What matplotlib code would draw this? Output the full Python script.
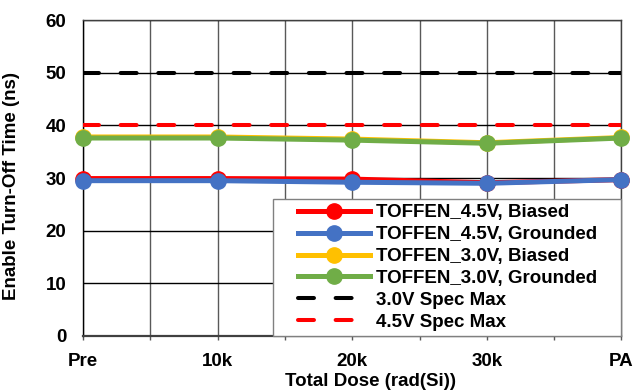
import matplotlib.pyplot as plt
from matplotlib.patches import Rectangle

plt.rcParams["font.family"] = ["Liberation Sans", "DejaVu Sans"]
plt.rcParams["font.weight"] = "bold"

doses = ["Pre", "10k", "20k", "30k", "PA"]
toffen_45_biased = [29.9, 29.9, 29.8, 29.1, 29.7]
toffen_45_grounded = [29.5, 29.5, 29.2, 29.0, 29.7]
toffen_30_biased = [37.8, 37.8, 37.4, 36.7, 37.7]
toffen_30_grounded = [37.6, 37.6, 37.2, 36.6, 37.6]
spec_max_30 = [50, 50, 50, 50, 50]
spec_max_45 = [40, 40, 40, 40, 40]

series = [
    ("TOFFEN_4.5V, Biased", toffen_45_biased, "#ff0000"),
    ("TOFFEN_4.5V, Grounded", toffen_45_grounded, "#4472c4"),
    ("TOFFEN_3.0V, Biased", toffen_30_biased, "#ffc000"),
    ("TOFFEN_3.0V, Grounded", toffen_30_grounded, "#70ad47"),
]
specs = [
    ("3.0V Spec Max", spec_max_30, "black"),
    ("4.5V Spec Max", spec_max_45, "#ff0000"),
]

FS = 13.5

fig = plt.figure(figsize=(6.35, 3.9), dpi=100)
ax = fig.add_axes([0.1307, 0.1385, 0.848, 0.810])
x = list(range(len(doses)))

for label, vals, color in series:
    ax.plot(x, vals, color=color, lw=3.6, marker="o", ms=11,
            mec=color, mfc=color, label=label, zorder=4, clip_on=False)

spec_lw = 2.9
for label, vals, color in specs:
    ln, = ax.plot(x, vals, color=color, lw=spec_lw, label=label, zorder=3)
    ln.set_dashes((11.5 / spec_lw, 15.6 / spec_lw))
    ln.set_dash_capstyle("round")

ax.set_xlim(0, 4)
ax.set_ylim(0, 60)
ax.set_xticks(x)
ax.set_xticklabels(doses)
ax.set_xticks([0.5, 1.5, 2.5, 3.5], minor=True)
ax.set_yticks(range(0, 61, 10))

ax.grid(True, which="both", axis="x", color="#595959", lw=1, zorder=0)
ax.grid(True, which="major", axis="y", color="black", lw=1, zorder=0)
ax.set_axisbelow(True)

ax.tick_params(axis="x", which="both", length=3, width=1, color="#595959",
               pad=9.5, labelsize=FS)
ax.tick_params(axis="y", length=0, pad=12, labelsize=FS)
for lab in ax.get_xticklabels() + ax.get_yticklabels():
    lab.set_fontweight("bold")

for side in ["top", "right", "left"]:
    ax.spines[side].set_color("#404040")
    ax.spines[side].set_linewidth(1)
ax.spines["left"].set_color("black")
ax.spines["bottom"].set_color("#404040")
ax.spines["bottom"].set_linewidth(1.6)

ax.set_xlabel("Total Dose (rad(Si))", fontsize=FS, fontweight="bold")
ax.xaxis.set_label_coords(0.533, -0.116)
ax.set_ylabel("Enable Turn-Off Time (ns)", fontsize=FS, fontweight="bold")
ax.yaxis.set_label_coords(-0.117, 0.475)

# legend box drawn by hand so the padding matches the original
box = Rectangle((0.353, 0.0), 0.647, 0.433, transform=ax.transAxes,
                facecolor="white", edgecolor="#808080", lw=1,
                zorder=5, clip_on=False)
ax.add_patch(box)
leg = ax.legend(loc="center", bbox_to_anchor=(0.677, 0.217), frameon=False,
                fontsize=FS, handlelength=3.84, handletextpad=0.32,
                labelspacing=0.25, borderpad=0.1)
leg.set_zorder(6)
for t in leg.get_texts():
    t.set_fontweight("bold")

fig.savefig("out.png", dpi=100)
